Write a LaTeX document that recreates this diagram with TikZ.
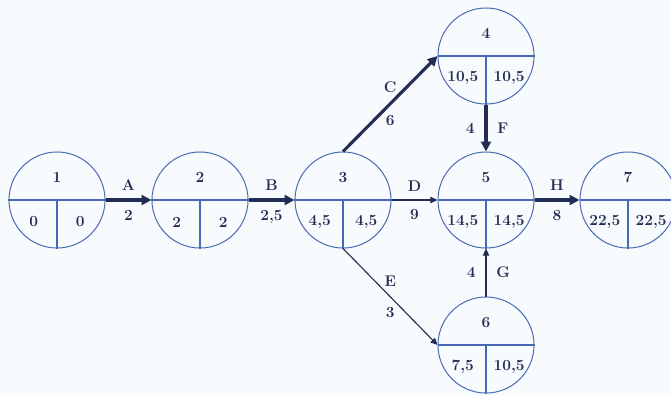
\documentclass[tikz,border=0pt]{standalone}
\usetikzlibrary{arrows.meta}
\definecolor{ringblue}{RGB}{72,104,182}
\definecolor{inkdark}{RGB}{34,44,84}
\definecolor{paper}{RGB}{248,251,253}
\tikzset{
  event/.style={circle, draw=ringblue, line width=0.7pt, minimum size=2.4cm, inner sep=0pt},
  divider/.style={ringblue, line width=0.9pt},
  val/.style={font=\fontsize{11}{13}\selectfont\bfseries, text=inkdark, inner sep=1pt},
  act/.style={-{Triangle[length=7pt,width=7pt]}, inkdark, line width=2.2pt},
  actthin/.style={-{Triangle[length=5pt,width=4.5pt]}, inkdark, line width=0.8pt},
}
% 事件节点：名称, x, y, 编号, 最早时间, 最迟时间
\newcommand{\eventnode}[6]{%
  \node[event] (#1) at (#2,#3) {};
  \draw[divider] (#1.west) -- (#1.east);
  \draw[divider] (#1.center) -- (#1.south);
  \node[val] (#1-id) at ([yshift=0.57cm]#1.center) {#4};
  \node[val] (#1-es) at ([xshift=-0.58cm,yshift=-0.55cm]#1.center) {#5};
  \node[val] (#1-ls) at ([xshift=0.58cm,yshift=-0.55cm]#1.center) {#6};
}
\begin{document}
\begin{tikzpicture}[x=0.025cm, y=-0.025cm]
    % 背景与边界
    \fill[paper] (0,0) rectangle (671,396);
    \useasboundingbox (0,0) rectangle (671,396);

    % 1. 绘制事件节点
    \eventnode{n1}{57}{200}{1}{0}{0}
    \eventnode{n2}{200}{200}{2}{2}{2}
    \eventnode{n3}{343}{200}{3}{4,5}{4,5}
    \eventnode{n4}{486}{56}{4}{10,5}{10,5}
    \eventnode{n5}{486}{200}{5}{14,5}{14,5}
    \eventnode{n6}{486}{345}{6}{7,5}{10,5}
    \eventnode{n7}{628}{200}{7}{22,5}{22,5}

    % 2. 绘制工序箭线
    \draw[act] (n1.east) -- (n2.west)
      node[val, midway, above=5pt] {A} node[val, midway, below=5pt] {2};
    \draw[act] (n2.east) -- (n3.west)
      node[val, midway, above=5pt] {B} node[val, midway, below=5pt] {2,5};
    \draw[act] (n3.north) -- (n4.west)
      node[val, midway, above=6pt] {C} node[val, midway, below=6pt] {6};
    \draw[actthin] (n3.east) -- (n5.west)
      node[val, midway, above=5pt] {D} node[val, midway, below=5pt] {9};
    \draw[actthin] (n3.south) -- (n6.west)
      node[val, midway, above=6pt] {E} node[val, midway, below=6pt] {3};
    \draw[act] (n4.south) -- (n5.north)
      node[val, midway, right=6pt] {F} node[val, midway, left=6pt] {4};
    \draw[actthin] (n6.north) -- (n5.south)
      node[val, midway, right=6pt] {G} node[val, midway, left=6pt] {4};
    \draw[act] (n5.east) -- (n7.west)
      node[val, midway, above=5pt] {H} node[val, midway, below=5pt] {8};
\end{tikzpicture}
\end{document}
